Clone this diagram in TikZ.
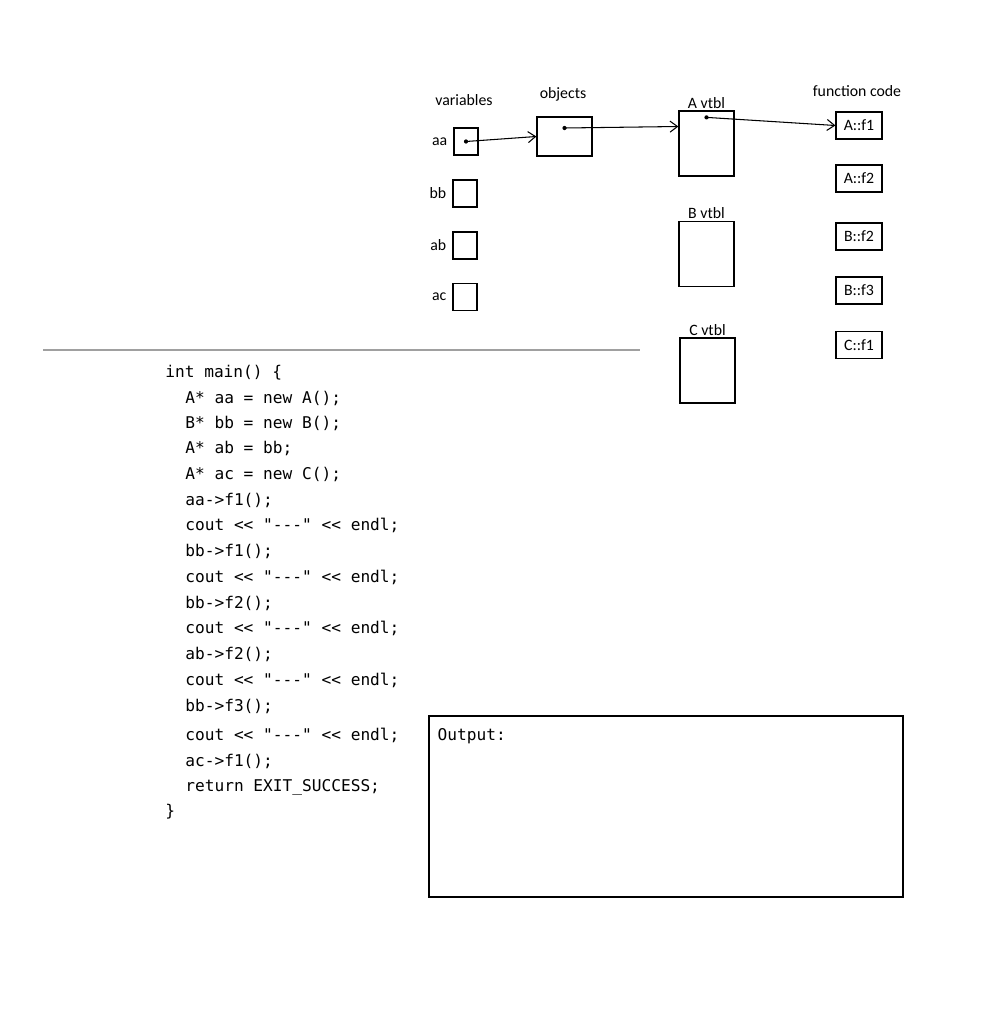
\documentclass[tikz,border=0pt]{standalone}
\usepackage{fontspec}
\setmainfont{Carlito}
\setmonofont{DejaVu Sans Mono}
\usepackage{tikz}
\usetikzlibrary{arrows.meta, calc, positioning}
\definecolor{rulegray}{RGB}{160, 160, 160}

\tikzset{
  cell/.style={draw, line width=0.7pt, minimum width=0.48cm, minimum height=0.54cm, inner sep=0pt},
  objbox/.style={draw, line width=0.7pt, minimum width=1.1cm, minimum height=0.78cm, inner sep=0pt},
  vtblbox/.style={draw, line width=0.7pt, minimum width=1.1cm, minimum height=1.3cm, inner sep=0pt},
  fnbox/.style={draw, line width=0.7pt, minimum width=0.92cm, minimum height=0.54cm, inner sep=0pt, font=\fontsize{9}{10}\selectfont},
  lbl/.style={inner sep=1pt, font=\fontsize{9}{10}\selectfont},
  codeline/.style={anchor=west, inner sep=0pt, font=\fontsize{9.2}{11}\ttfamily},
  ptr/.style={-{Straight Barb[length=1.5mm, width=2.2mm]}, line width=0.6pt},
}

\begin{document}
\begin{tikzpicture}[x=0.02cm, y=-0.02cm]
  \useasboundingbox (0, 0) rectangle (990, 1024);

  % Variables
  \node[cell] (aa) at (466, 141.5) {};
  \node[cell] (bb) at (465, 193.5) {};
  \node[cell] (ab) at (465, 245.5) {};
  \node[cell] (ac) at (465, 297) {};
  \node[lbl, left=0.08cm of aa] {aa};
  \node[lbl, left=0.08cm of bb] {bb};
  \node[lbl, left=0.08cm of ab] {ab};
  \node[lbl, left=0.08cm of ac] {ac};
  \node[lbl] (varhead) at (464, 100) {variables};

  % Objects
  \node[objbox] (obj) at (564.5, 136.5) {};
  \node[lbl] (objhead) at (563, 94) {objects};

  % Vtables
  \node[vtblbox] (avtbl) at (706.5, 143.5) {};
  \node[vtblbox] (bvtbl) at (706.5, 254) {};
  \node[vtblbox] (cvtbl) at (707.5, 370.5) {};
  \node[lbl, above=0cm of avtbl] {A vtbl};
  \node[lbl, above=0cm of bvtbl] {B vtbl};
  \node[lbl, above=0cm of cvtbl] {C vtbl};

  % Function code
  \node[fnbox] (af1) at (859, 125.5) {A::f1};
  \node[fnbox] (af2) at (859, 178.5) {A::f2};
  \node[fnbox] (bf2) at (859, 236.5) {B::f2};
  \node[fnbox] (bf3) at (859, 290.5) {B::f3};
  \node[fnbox] (cf1) at (859, 345) {C::f1};
  \node[lbl] (fnhead) at (857, 91) {function code};

  % Pointers
  \coordinate (aaptr)  at (aa.center);
  \coordinate (objptr) at ([yshift=0.17cm]obj.center);
  \coordinate (vptr)   at ([yshift=-0.14cm]avtbl.north);
  \fill (aaptr) circle (1.2pt);
  \fill (objptr) circle (1.2pt);
  \fill (vptr) circle (1.2pt);
  \draw[ptr] (aaptr) -- (obj.west);
  \draw[ptr] (objptr) -- ([yshift=0.34cm]avtbl.west);
  \draw[ptr] (vptr) -- (af1.west);

  % Separator
  \draw[rulegray, line width=1.2pt] (43, 350) -- (640, 350);

  % Code
  \node[codeline] (code0) at (165, 373) {int main() \{};
  \foreach \y/\txt [count=\i] in {
      398/{A* aa = new A();},
      423/{B* bb = new B();},
      448/{A* ab = bb;},
      474/{A* ac = new C();},
      500/{aa->f1();},
      525/{cout << "---" << endl;},
      551/{bb->f1();},
      577/{cout << "---" << endl;},
      603/{bb->f2();},
      628/{cout << "---" << endl;},
      654/{ab->f2();},
      680/{cout << "---" << endl;},
      706/{bb->f3();},
      735/{cout << "---" << endl;},
      761/{ac->f1();},
      787/{return EXIT\textunderscore SUCCESS;}}
    \node[codeline] (code\i) at (185, \y) {\txt};
  \node[codeline] (codeend) at (165, 812) {\}};

  % Output
  \node[draw, line width=0.8pt, minimum width=9.48cm, minimum height=3.62cm, inner sep=0pt] (outbox) at (666, 806.5) {};
  \node[codeline, anchor=north west] (outlabel) at ([xshift=0.18cm, yshift=-0.26cm]outbox.north west) {Output:};

\end{tikzpicture}
\end{document}
